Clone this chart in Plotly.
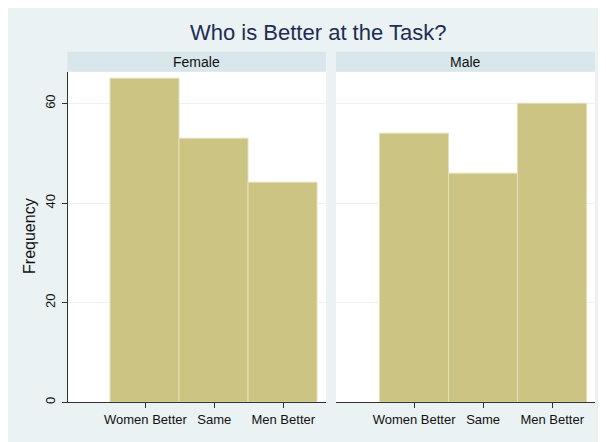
import plotly.graph_objects as go

categories = ["Women Better", "Same", "Men Better"]
cat_pos = [1, 2, 3]
female_freq = [65, 53, 44]
male_freq = [54, 46, 60]
panels = ["Female", "Male"]
y_ticks = [0, 20, 40, 60]

W, H = 606, 442
OFF = 8  # page body margin
BG = "#EAF2F3"
HDR = "#D9E6EC"
BAR = "#CCC483"
BAR_LINE = "#E4DFBB"
FONT = "Liberation Sans, Arial, sans-serif"

def px(x):
    return (x - OFF) / W

def py(y):
    return 1 - (y - OFF) / H

fig = go.Figure()

dom1 = [px(67.5), px(326)]
dom2 = [px(336), px(595)]
ydom = [py(404), py(72)]

for i, vals in enumerate([female_freq, male_freq]):
    fig.add_trace(go.Bar(
        x=cat_pos, y=vals, width=1.0,
        marker=dict(color=BAR, line=dict(color=BAR_LINE, width=1)),
        xaxis="x" if i == 0 else "x2", yaxis="y" if i == 0 else "y2",
        showlegend=False, hoverinfo="skip",
    ))

xr = [-0.13, 3.62]
yr = [0, 66.4]
common_x = dict(range=xr, tickmode="array", tickvals=cat_pos, ticktext=categories,
                showline=True, linecolor="#333333", linewidth=1, ticks="outside",
                ticklen=5, tickcolor="#333333", showgrid=False, zeroline=False,
                tickfont=dict(size=13, color="#111111", family=FONT))
fig.update_layout(
    xaxis=dict(domain=dom1, anchor="y", **common_x),
    xaxis2=dict(domain=dom2, anchor="y2", **common_x),
    yaxis=dict(domain=ydom, range=yr, tickvals=y_ticks, showline=True, linecolor="#333333",
               linewidth=1, ticks="outside", ticklen=5, tickcolor="#333333",
               tickangle=-90, showgrid=True, gridcolor=BG, gridwidth=1, zeroline=False,
               ticklabelstandoff=1,
               tickfont=dict(size=13, color="#111111", family=FONT),
               anchor="x"),
    yaxis2=dict(domain=ydom, range=yr, tickvals=y_ticks, showline=False, showticklabels=False,
                showgrid=True, gridcolor=BG, gridwidth=1, zeroline=False, anchor="x2"),
)

shapes = []
annotations = []
for dom, name in zip([dom1, dom2], panels):
    shapes.append(dict(type="rect", xref="paper", yref="paper", x0=dom[0], x1=dom[1],
                       y0=ydom[0], y1=ydom[1], fillcolor="white", line=dict(width=0), layer="below"))
    shapes.append(dict(type="rect", xref="paper", yref="paper", x0=dom[0], x1=dom[1],
                       y0=py(72), y1=py(52), fillcolor=HDR, line=dict(width=0), layer="below"))
    annotations.append(dict(text=name, xref="paper", yref="paper", x=(dom[0] + dom[1]) / 2,
                            y=py(62), xanchor="center", yanchor="middle", showarrow=False,
                            font=dict(size=14, color="#111111", family=FONT)))
annotations.append(dict(text="Who is Better at the Task?", xref="paper", yref="paper",
                        x=px(318), y=py(33), xanchor="center", yanchor="middle", showarrow=False,
                        font=dict(size=22, color="#1E2D53", family=FONT)))
annotations.append(dict(text="Frequency", xref="paper", yref="paper", textangle=-90,
                        x=px(30), y=py(237), xanchor="center", yanchor="middle", showarrow=False,
                        font=dict(size=16, color="#111111", family=FONT)))

fig.update_layout(
    width=W, height=H, margin=dict(l=0, r=0, t=0, b=0),
    paper_bgcolor=BG, plot_bgcolor="rgba(0,0,0,0)",
    shapes=shapes, annotations=annotations, bargap=0,
)

fig.write_html("out.html")
